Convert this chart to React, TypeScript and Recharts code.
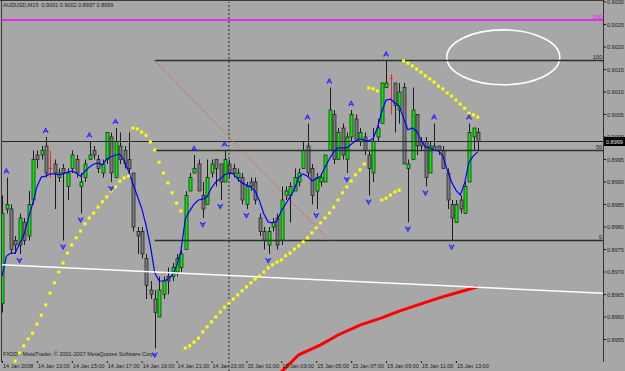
import React from 'react'
import {
  ComposedChart,
  Bar,
  Line,
  Scatter,
  XAxis,
  YAxis,
  ReferenceLine,
  ReferenceArea,
} from 'recharts'

const symbolTitle = 'AUDUSD,M15'
const copyright = 'FXDD - MetaTrader, © 2001-2007 MetaQuotes Software Corp.'

const timeTicks = [0, 8, 16, 24, 32, 40, 48, 56, 64, 72, 80, 88, 96, 104]
const timeLabels = [
  '14 Jan 2008', '14 Jan 13:00', '14 Jan 15:00', '14 Jan 17:00', '14 Jan 19:00',
  '14 Jan 21:00', '14 Jan 23:00', '15 Jan 01:00', '15 Jan 03:00', '15 Jan 05:00',
  '15 Jan 07:00', '15 Jan 09:00', '15 Jan 11:00', '15 Jan 13:00',
]
const priceTicks = [
  0.8955, 0.896, 0.8965, 0.897, 0.8975, 0.898, 0.8985, 0.899,
  0.8995, 0.9, 0.9005, 0.901, 0.9015, 0.902, 0.9025, 0.903,
]

// M15 candles, one per bar index
const opens = [
  0.8963, 0.8984, 0.8984, 0.8977, 0.8976, 0.8981, 0.8978, 0.8986, 0.8996, 0.8996,
  0.8998, 0.8993, 0.8994, 0.8991, 0.8993, 0.8989, 0.8993, 0.8995, 0.8989, 0.8991,
  0.8995, 0.8997, 0.8995, 0.8992, 0.8995, 0.9000, 0.8991, 0.8998, 0.8997, 0.8995,
  0.8992, 0.8979, 0.8979, 0.8973, 0.8966, 0.8964, 0.8960, 0.8965, 0.8969, 0.8969,
  0.8970, 0.8971, 0.8975, 0.8988, 0.8992, 0.8994, 0.8987, 0.8985, 0.8992, 0.8995,
  0.8994, 0.8990, 0.8994, 0.8993, 0.8991, 0.8991, 0.8985, 0.8990, 0.8990, 0.8982,
  0.8979, 0.8976, 0.8980, 0.8982, 0.8977, 0.8987, 0.8987, 0.8988, 0.8990, 0.8993,
  0.8998, 0.8993, 0.8988, 0.8990, 0.8990, 0.8997, 0.9005, 0.8995, 0.9002, 0.8995,
  0.9000, 0.9004, 0.8999, 0.9000, 0.8996, 0.8992, 0.9000, 0.9003, 0.9011, 0.9013,
  0.9012, 0.9006, 0.9011, 0.8993, 0.8995, 0.9005, 0.8999, 0.8999, 0.8992, 0.8998,
  0.8998, 0.8997, 0.8992, 0.8985, 0.8981, 0.8986, 0.8983, 0.8990, 0.9000, 0.9001,
]
const highs = [
  0.8987, 0.8991, 0.8985, 0.8978, 0.8983, 0.8982, 0.8988, 0.8997, 0.8997, 0.8998,
  0.9000, 0.8997, 0.8995, 0.8993, 0.8994, 0.8993, 0.8997, 0.8996, 0.8992, 0.8995,
  0.8999, 0.8998, 0.8996, 0.8995, 0.9001, 0.9001, 0.9002, 0.9001, 0.8998, 0.9001,
  0.8992, 0.8980, 0.8980, 0.8974, 0.8968, 0.8966, 0.8969, 0.8969, 0.8971, 0.8972,
  0.8974, 0.8975, 0.8988, 0.8992, 0.8996, 0.8995, 0.8990, 0.8995, 0.8995, 0.8995,
  0.8994, 0.8997, 0.8995, 0.8994, 0.8993, 0.8992, 0.8990, 0.8991, 0.8991, 0.8983,
  0.8980, 0.8980, 0.8982, 0.8983, 0.8989, 0.8989, 0.8990, 0.8993, 0.8993, 0.8999,
  0.9003, 0.8994, 0.8992, 0.8992, 0.8996, 0.9011, 0.9006, 0.9002, 0.9003, 0.9001,
  0.9006, 0.9005, 0.9002, 0.9001, 0.8997, 0.9002, 0.9004, 0.9012, 0.9017, 0.9014,
  0.9012, 0.9012, 0.9012, 0.8995, 0.9011, 0.9005, 0.9000, 0.9000, 0.8999, 0.9003,
  0.8998, 0.8998, 0.8993, 0.8986, 0.8986, 0.8987, 0.8990, 0.9003, 0.9002, 0.9002,
]
const lows = [
  0.8961, 0.8983, 0.8974, 0.8974, 0.8974, 0.8976, 0.8977, 0.8985, 0.8993, 0.8995,
  0.8991, 0.8991, 0.8984, 0.8990, 0.8977, 0.8986, 0.8992, 0.8991, 0.8983, 0.8990,
  0.8995, 0.8995, 0.8992, 0.8991, 0.8994, 0.8990, 0.8991, 0.8994, 0.8993, 0.8991,
  0.8979, 0.8974, 0.8973, 0.8964, 0.8964, 0.8953, 0.8960, 0.8964, 0.8965, 0.8968,
  0.8969, 0.8970, 0.8975, 0.8988, 0.8992, 0.8988, 0.8982, 0.8985, 0.8991, 0.8989,
  0.8986, 0.8990, 0.8991, 0.8991, 0.8990, 0.8985, 0.8984, 0.8988, 0.8985, 0.8978,
  0.8975, 0.8974, 0.8979, 0.8975, 0.8976, 0.8986, 0.8981, 0.8988, 0.8989, 0.8993,
  0.8991, 0.8985, 0.8984, 0.8989, 0.8990, 0.8997, 0.8994, 0.8995, 0.8995, 0.8992,
  0.8999, 0.8999, 0.8998, 0.8996, 0.8987, 0.8990, 0.8999, 0.9003, 0.9011, 0.9005,
  0.9001, 0.9003, 0.8994, 0.8981, 0.8995, 0.8996, 0.8997, 0.8989, 0.8992, 0.8997,
  0.8996, 0.8993, 0.8984, 0.8977, 0.8981, 0.8983, 0.8983, 0.8990, 0.8997, 0.8997,
]
const closes = [
  0.8983, 0.8985, 0.8975, 0.8976, 0.8982, 0.8977, 0.8985, 0.8995, 0.8995, 0.8997,
  0.8992, 0.8993, 0.8992, 0.8992, 0.8992, 0.8992, 0.8996, 0.8992, 0.8990, 0.8994,
  0.8996, 0.8996, 0.8993, 0.8994, 0.9001, 0.8992, 0.8999, 0.8995, 0.8994, 0.8993,
  0.8980, 0.8978, 0.8974, 0.8967, 0.8965, 0.8961, 0.8966, 0.8968, 0.8968, 0.8971,
  0.8973, 0.8974, 0.8987, 0.8991, 0.8993, 0.8988, 0.8984, 0.8991, 0.8994, 0.8993,
  0.8990, 0.8995, 0.8992, 0.8992, 0.8992, 0.8986, 0.8989, 0.8989, 0.8986, 0.8979,
  0.8977, 0.8979, 0.8981, 0.8976, 0.8986, 0.8988, 0.8989, 0.8991, 0.8992, 0.8997,
  0.8992, 0.8987, 0.8991, 0.8991, 0.8996, 0.9006, 0.8995, 0.9001, 0.8996, 0.9000,
  0.9005, 0.8999, 0.9001, 0.8997, 0.8993, 0.8999, 0.9002, 0.9012, 0.9012, 0.9013,
  0.9007, 0.9010, 0.8994, 0.8994, 0.9006, 0.8998, 0.8998, 0.8991, 0.8998, 0.8997,
  0.8997, 0.8993, 0.8986, 0.8982, 0.8985, 0.8984, 0.8989, 0.9001, 0.9002, 0.8999,
]

// blue moving average
const maValues = [
  0.89690, 0.89735, 0.89742, 0.89742, 0.89762, 0.89782, 0.89818, 0.89851, 0.89889, 0.89911,
  0.89913, 0.89918, 0.89918, 0.89916, 0.89918, 0.89922, 0.89924, 0.89920, 0.89913, 0.89924,
  0.89933, 0.89940, 0.89942, 0.89938, 0.89951, 0.89956, 0.89960, 0.89962, 0.89947, 0.89924,
  0.89896, 0.89869, 0.89842, 0.89804, 0.89758, 0.89698, 0.89680, 0.89680, 0.89684, 0.89693,
  0.89713, 0.89747, 0.89818, 0.89836, 0.89851, 0.89860, 0.89862, 0.89867, 0.89887, 0.89900,
  0.89907, 0.89916, 0.89920, 0.89918, 0.89907, 0.89898, 0.89893, 0.89889, 0.89880, 0.89858,
  0.89829, 0.89811, 0.89809, 0.89813, 0.89836, 0.89851, 0.89867, 0.89884, 0.89911, 0.89918,
  0.89913, 0.89902, 0.89907, 0.89913, 0.89933, 0.89951, 0.89967, 0.89976, 0.89976, 0.89976,
  0.89984, 0.89991, 0.89996, 0.89993, 0.89991, 0.89996, 0.90020, 0.90056, 0.90082, 0.90084,
  0.90076, 0.90069, 0.90042, 0.90016, 0.90020, 0.90013, 0.89993, 0.89978, 0.89976, 0.89971,
  0.89969, 0.89958, 0.89927, 0.89900, 0.89882, 0.89871, 0.89898, 0.89944, 0.89958, 0.89967,
]

// red slow average, read at a few bars
const slowBars = [64, 68, 73, 77, 82, 87, 91, 96, 100, 105, 109]
const slowValues = [0.89478, 0.89516, 0.89538, 0.8956, 0.89582, 0.89598, 0.89613, 0.89629, 0.89642, 0.89656, 0.89667]

// parabolic SAR from bar 3 onwards
const sarStart = 3
const sarValues = [
  0.89502, 0.8952, 0.89536, 0.89551, 0.89564, 0.89584, 0.89604, 0.89627, 0.89653, 0.89676,
  0.897, 0.8972, 0.89742, 0.8976, 0.89776, 0.89791, 0.89807, 0.8982, 0.89831, 0.89844,
  0.89856, 0.89867, 0.8988, 0.89889, 0.89902, 0.89909, 0.89913,
  0.9002, 0.90018, 0.90011, 0.90004, 0.89989, 0.89971, 0.89944, 0.8992, 0.89898, 0.89876,
  0.89853, 0.89836,
  0.89531, 0.89536, 0.89544, 0.89553, 0.89567, 0.89578, 0.89589, 0.896, 0.89611, 0.89622,
  0.89631, 0.8964, 0.89649, 0.89658, 0.89667, 0.89676, 0.89684, 0.89691, 0.897, 0.89709,
  0.89716, 0.89722, 0.89727, 0.89736, 0.89742, 0.89751, 0.89758, 0.89767, 0.89776, 0.89787,
  0.89798, 0.89809, 0.8982, 0.89831, 0.89844, 0.8986, 0.89876, 0.89889, 0.89902, 0.89916,
  0.89927, 0.8994,
  0.90109, 0.90107, 0.90102,
  0.8986, 0.89864, 0.89871, 0.89878, 0.89882,
  0.90169, 0.90164, 0.90158, 0.90151, 0.90144, 0.90136, 0.90129, 0.90122, 0.90113, 0.90107,
  0.90098, 0.90091, 0.90082, 0.90073, 0.90064, 0.90053, 0.90049, 0.90044,
]

const fractalUpBars = [1, 10, 20, 26, 44, 51, 70, 75, 80, 88, 99, 107]
const fractalDownBars = [4, 14, 18, 25, 35, 46, 50, 56, 61, 72, 79, 84, 93, 97, 103]

// drawn objects
const fibStartBar = 35
const fibEndBar = 75
const fibHigh = 0.9017
const fibLow = 0.8977
const fibLevels = [
  { name: '100', ratio: 1 },
  { name: '50', ratio: 0.5 },
  { name: '0', ratio: 0 },
]
const markerLevel = { name: '200', price: 0.9026 }
const bidPrice = 0.8999
const separatorBar = 52
const trendLine = [
  { i: 0, v: 0.89716 },
  { i: 137.7, v: 0.89653 },
]
const ellipseBox = { x1: 101.9, x2: 127.8, y1: 0.90116, y2: 0.90238 }

const xDomain: [number, number] = [0, 137.7]
const yDomain: [number, number] = [0.8948, 0.903]

const rows = opens.map((open, i) => {
  const k = slowBars.indexOf(i)
  return {
    i,
    open,
    high: highs[i],
    low: lows[i],
    close: closes[i],
    ma: maValues[i],
    slow: k >= 0 ? slowValues[k] : null,
  }
})
const sarRows = sarValues.map((v, k) => ({ i: sarStart + k, v }))
const upRows = fractalUpBars.map((i) => ({ i, v: highs[i] }))
const downRows = fractalDownBars.map((i) => ({ i, v: lows[i] }))

const FONT = '"Liberation Sans", Arial, sans-serif'
const BG = '#a7a7a7'
const DARK = '#1c1c1c'
const LEVEL = '#263626'
const ARROW = '#2a2aff'

function Candle(props: any) {
  const { x, y, width, height, payload } = props
  if (x == null || !payload) return null
  const { open, close, high, low } = payload
  const top = Math.min(y, y + height)
  const h = Math.abs(height)
  const px = (v: number) => (high === low ? top : top + ((high - v) / (high - low)) * h)
  const cx = Math.round(x + width / 2) + 0.5
  if (open === close) {
    const yy = px(open)
    return (
      <g>
        <line x1={cx} x2={cx} y1={top} y2={top + h} stroke="#ff2020" strokeWidth={1} />
        <line x1={cx - 1.5} x2={cx + 1.5} y1={yy} y2={yy} stroke="#ff2020" strokeWidth={1} />
      </g>
    )
  }
  const bull = close > open
  const bTop = px(Math.max(open, close))
  const bBot = px(Math.min(open, close))
  return (
    <g>
      <line x1={cx} x2={cx} y1={top} y2={top + h} stroke={DARK} strokeWidth={1} />
      <rect
        x={cx - 1.5}
        y={bTop}
        width={3}
        height={Math.max(1, bBot - bTop)}
        fill={bull ? '#00f000' : '#7c7c7c'}
        stroke={DARK}
        strokeWidth={0.7}
      />
    </g>
  )
}

function SarDot(props: any) {
  const { cx, cy } = props
  if (cx == null) return null
  return <rect x={cx - 1.5} y={cy - 1.5} width={3} height={3} fill="#ffff00" />
}

function UpArrow(props: any) {
  const { cx, cy } = props
  if (cx == null) return null
  const y = cy - 6
  return (
    <path
      d={`M${cx - 2.5},${y + 2} L${cx},${y - 2.5} L${cx + 2.5},${y + 2} M${cx - 1.2},${y + 0.5} L${cx + 1.2},${y + 0.5}`}
      stroke={ARROW}
      strokeWidth={1.2}
      fill="none"
    />
  )
}

function DownArrow(props: any) {
  const { cx, cy } = props
  if (cx == null) return null
  const y = cy + 6
  return (
    <path
      d={`M${cx - 2.5},${y - 2} L${cx},${y + 2.5} L${cx + 2.5},${y - 2} M${cx - 1.2},${y - 0.5} L${cx + 1.2},${y - 0.5}`}
      stroke={ARROW}
      strokeWidth={1.2}
      fill="none"
    />
  )
}

function TimeTick(props: any) {
  const { x, y, payload } = props
  const idx = timeTicks.indexOf(payload.value)
  return (
    <g>
      <line x1={x + 0.5} x2={x + 0.5} y1={y - 10} y2={y - 8} stroke={DARK} />
      <text x={x + 1} y={y - 3.5} fontSize={5.5} fontFamily={FONT} fill={DARK} textAnchor="start">
        {timeLabels[idx]}
      </text>
    </g>
  )
}

function PriceTick(props: any) {
  const { x, y, payload } = props
  return (
    <text x={x} y={y + 2} fontSize={5.5} fontFamily={FONT} fill={DARK} textAnchor="start">
      {Number(payload.value).toFixed(4)}
    </text>
  )
}

const levelLabel = (text: string, color: string) => (props: any) => {
  const vb = props.viewBox || {}
  const xr = (vb.x ?? 0) + (vb.width ?? 0)
  return (
    <text x={xr - 1} y={(vb.y ?? 0) - 1.5} fontSize={5.5} fontFamily={FONT} fill={color} textAnchor="end">
      {text}
    </text>
  )
}

const bidLabel = (props: any) => {
  const vb = props.viewBox || {}
  const xr = (vb.x ?? 0) + (vb.width ?? 0)
  const yy = vb.y ?? 0
  return (
    <g>
      <rect x={xr + 1} y={yy - 4.5} width={21} height={9} fill="#000" />
      <text x={xr + 3} y={yy + 2} fontSize={5.5} fontFamily={FONT} fill="#e8e8e8">
        {bidPrice.toFixed(4)}
      </text>
    </g>
  )
}

export default function App() {
  const last = opens.length - 1
  return (
    <div style={{ position: 'absolute', left: 0, top: 0, width: 625, height: 371, background: BG, overflow: 'hidden' }}>
      <ComposedChart width={625} height={371} data={rows} margin={{ top: 2, right: 0, bottom: 0, left: 2 }}>
        <XAxis
          dataKey="i"
          type="number"
          domain={xDomain}
          allowDataOverflow
          ticks={timeTicks}
          interval={0}
          mirror
          axisLine={false}
          tickLine={false}
          tickSize={0}
          tickMargin={0}
          tick={<TimeTick />}
        />
        <YAxis
          orientation="right"
          width={22}
          domain={yDomain}
          allowDataOverflow
          ticks={priceTicks}
          interval={0}
          axisLine={false}
          tickLine={{ stroke: DARK }}
          tickSize={3}
          tickMargin={1}
          tick={<PriceTick />}
        />

        <ReferenceLine x={separatorBar} stroke="#2a2a2a" strokeDasharray="2 2" ifOverflow="hidden" />
        <ReferenceLine
          y={markerLevel.price}
          stroke="#ff00ff"
          strokeWidth={1.5}
          ifOverflow="hidden"
          label={levelLabel(markerLevel.name, '#ff00ff')}
        />
        <ReferenceLine y={bidPrice} stroke="#2a2a2a" strokeWidth={1} ifOverflow="hidden" label={bidLabel} />
        {fibLevels.map((lv) => {
          const p = fibLow + lv.ratio * (fibHigh - fibLow)
          return (
            <ReferenceLine
              key={lv.name}
              segment={[
                { x: fibStartBar, y: p },
                { x: xDomain[1], y: p },
              ]}
              stroke={LEVEL}
              strokeWidth={1.4}
              ifOverflow="hidden"
              label={levelLabel(lv.name, DARK)}
            />
          )
        })}
        <ReferenceLine
          segment={[
            { x: fibStartBar, y: fibHigh },
            { x: fibEndBar, y: fibLow },
          ]}
          stroke="#e05a5a"
          strokeWidth={1.2}
          strokeDasharray="1 1.8"
          ifOverflow="hidden"
        />

        <Bar dataKey={(d: any) => [d.low, d.high]} barSize={3} shape={<Candle />} isAnimationActive={false} />
        <Line dataKey="ma" type="linear" stroke="#0000ff" strokeWidth={1.2} dot={false} isAnimationActive={false} />
        <Line dataKey="slow" type="linear" stroke="#ff0000" strokeWidth={3} dot={false} connectNulls isAnimationActive={false} />
        <Scatter data={sarRows} dataKey="v" shape={<SarDot />} isAnimationActive={false} />
        <Scatter data={upRows} dataKey="v" shape={<UpArrow />} isAnimationActive={false} />
        <Scatter data={downRows} dataKey="v" shape={<DownArrow />} isAnimationActive={false} />

        <ReferenceLine
          segment={[
            { x: trendLine[0].i, y: trendLine[0].v },
            { x: trendLine[1].i, y: trendLine[1].v },
          ]}
          stroke="#ffffff"
          strokeWidth={1.5}
          ifOverflow="hidden"
        />
        <ReferenceArea
          x1={ellipseBox.x1}
          x2={ellipseBox.x2}
          y1={ellipseBox.y1}
          y2={ellipseBox.y2}
          ifOverflow="hidden"
          shape={(p: any) => (
            <ellipse
              cx={p.x + p.width / 2}
              cy={p.y + p.height / 2}
              rx={p.width / 2}
              ry={p.height / 2}
              fill="none"
              stroke="#ffffff"
              strokeWidth={1.6}
            />
          )}
        />
      </ComposedChart>

      {/* frame */}
      <div style={{ position: 'absolute', left: 0, top: 0, width: 604, height: 1, background: '#3a3a3a' }} />
      <div style={{ position: 'absolute', left: 1, top: 0, width: 1, height: 362, background: '#3a3a3a' }} />
      <div style={{ position: 'absolute', left: 603, top: 0, width: 1, height: 362, background: '#2c3a2c' }} />

      <div
        style={{
          position: 'absolute', left: 3, top: 2, fontFamily: FONT, fontSize: 5.5, color: DARK,
          whiteSpace: 'pre', lineHeight: '7px',
        }}
      >
        {`${symbolTitle}  ${opens[last].toFixed(4)} ${highs[last].toFixed(4)} ${lows[last].toFixed(4)} ${closes[last].toFixed(4)}`}
      </div>
      <div
        style={{
          position: 'absolute', left: 3, top: 351, fontFamily: FONT, fontSize: 5.5, color: DARK,
          whiteSpace: 'pre', lineHeight: '7px',
        }}
      >
        {copyright}
      </div>
    </div>
  )
}
